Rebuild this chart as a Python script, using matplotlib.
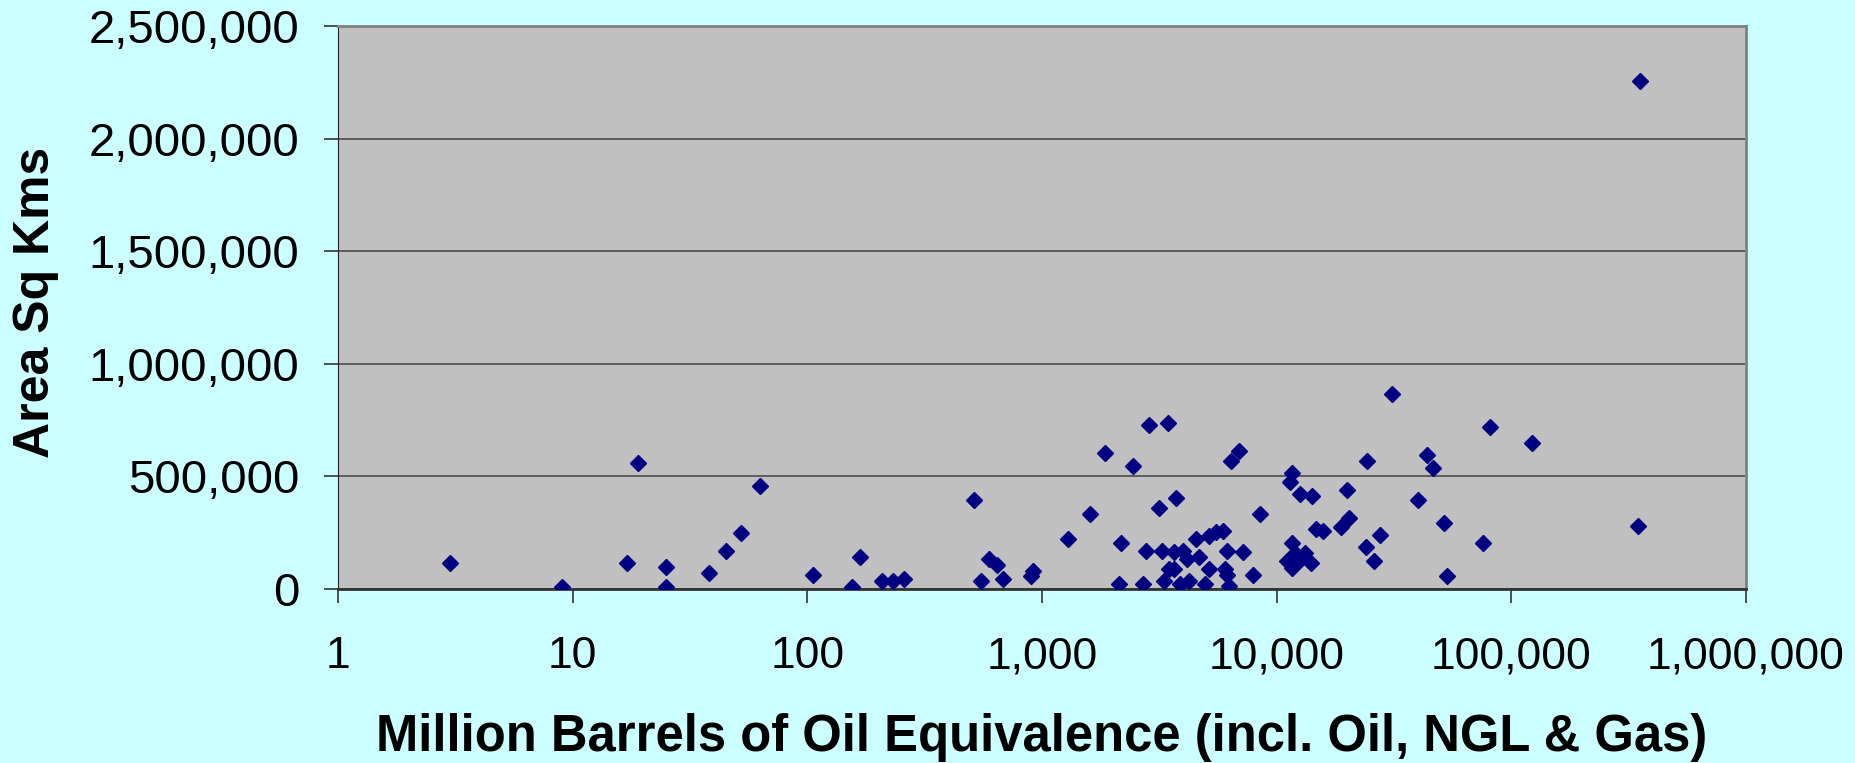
import matplotlib
matplotlib.use("Agg")
import matplotlib.pyplot as plt
from matplotlib import font_manager

# reserves (million boe) vs area (sq km)
mmboe = [3, 9, 17, 19, 25, 25, 38, 45, 52, 63,
         106, 155, 168, 209, 232, 257, 514, 547, 592, 641,
         681, 897, 918, 1295, 1604, 1853, 2133, 2162, 2448, 2700,
         2763, 2862, 3158, 3233, 3298, 3428, 3473, 3648, 3648, 3720,
         3870, 3970, 4154, 4214, 4530, 4666, 4947, 5130, 5156, 5505,
         5880, 6015, 6120, 6279, 6138, 6383, 6925, 7196, 7938, 8452,
         11610, 11383, 12560, 14170, 11610, 11020, 11610, 11960, 13190, 12560,
         13940, 11800, 14690, 15720, 18760, 19950, 20370, 23920, 24370, 25870,
         27430, 30970, 40090, 43530, 46160, 51890, 53090, 76100, 80720, 122700,
         346800, 353000]
area = [117000, 8000, 117000, 558000, 96000, 8000, 70000, 169000, 250000, 457000,
        61000, 8000, 142000, 34000, 34000, 43000, 395000, 34000, 135000, 107000,
        43000, 58000, 81000, 223000, 332000, 604000, 24000, 206000, 548000, 24000,
        169000, 728000, 358000, 169000, 34000, 738000, 87000, 87000, 164000, 405000,
        24000, 169000, 133000, 34000, 223000, 142000, 24000, 87000, 235000, 254000,
        259000, 90000, 62000, 15000, 169000, 567000, 613000, 164000, 61000, 332000,
        516000, 476000, 422000, 412000, 206000, 124000, 92000, 158000, 161000, 129000,
        114000, 110000, 268000, 258000, 277000, 440000, 314000, 186000, 567000, 123000,
        241000, 864000, 394000, 594000, 539000, 294000, 59000, 206000, 719000, 648000,
        278000, 2255000]

xticks = [1, 10, 100, 1000, 10000, 100000, 1000000]
xtick_labels = ["1", "10", "100", "1,000", "10,000", "100,000", "1,000,000"]
yticks = [0, 500000, 1000000, 1500000, 2000000, 2500000]
ytick_labels = ["0", "500,000", "1,000,000", "1,500,000", "2,000,000", "2,500,000"]

installed = {f.name for f in font_manager.fontManager.ttflist}
narrow = "Liberation Sans Narrow" if "Liberation Sans Narrow" in installed else "Liberation Sans"
plt.rcParams["font.family"] = ["Liberation Sans", "DejaVu Sans"]

fig = plt.figure(figsize=(18.56, 7.63), dpi=100, facecolor="#CCFFFF")
ax = fig.add_axes([338 / 1856, 1 - 589 / 763, 1408 / 1856, 563 / 763])
ax.set_facecolor("#C0C0C0")

ax.plot(mmboe, area, linestyle="none", marker="D", ms=8.5, color="#000080", zorder=3)

ax.set_xscale("log")
ax.set_xlim(1, 1000000)
ax.set_ylim(0, 2500000)
ax.set_xticks(xticks)
ax.set_xticklabels(xtick_labels)
ax.minorticks_off()
ax.set_yticks(yticks)
ax.set_yticklabels(ytick_labels)
ax.yaxis.grid(True, color="#555555", lw=1.3)
ax.set_axisbelow(True)

ax.tick_params(axis="both", length=10, width=1.2, color="#333333")
ax.tick_params(axis="y", labelsize=34, pad=18)
ax.tick_params(axis="x", labelsize=32, pad=24)

for side in ["top", "right"]:
    ax.spines[side].set_color("#808080")
    ax.spines[side].set_linewidth(2)
ax.spines["left"].set_color("#222222")
ax.spines["bottom"].set_color("#333333")
ax.spines["bottom"].set_linewidth(2)

ax.set_xlabel("Million Barrels of Oil Equivalence (incl. Oil, NGL & Gas)",
              fontsize=36.5, fontweight="bold", family=[narrow, "DejaVu Sans"], va="center")
ax.xaxis.set_label_coords(704 / 1408, (589 - 737) / 563)
ax.set_ylabel("Area Sq Kms", fontsize=36, fontweight="bold",
              family=[narrow, "DejaVu Sans"], va="center", ha="center")
ax.yaxis.set_label_coords((36 - 338) / 1408, (589 - 302) / 563)

fig.savefig("out.png", dpi=100, facecolor=fig.get_facecolor())
